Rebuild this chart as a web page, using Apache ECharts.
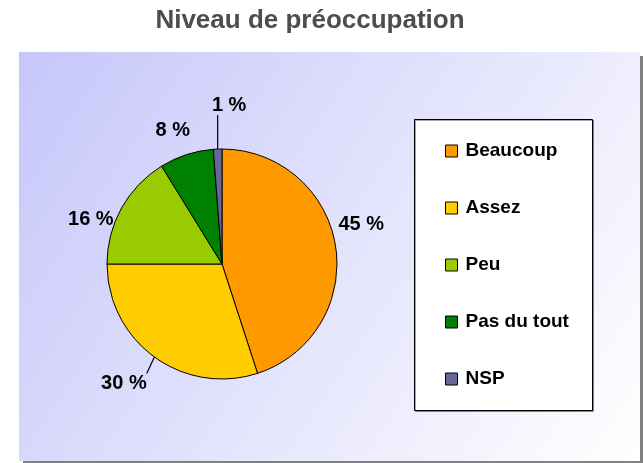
<!DOCTYPE html>
<html>
<head>
<meta charset="utf-8">
<script src="https://cdn.jsdelivr.net/npm/echarts@6/dist/echarts.min.js"></script>
<style>html,body{margin:0;padding:0;background:#fff;}#c{width:643px;height:463px;}</style>
</head>
<body>
<div id="c"></div>
<script>
const titleText = 'Niveau de préoccupation';
const categories = ['Beaucoup', 'Assez', 'Peu', 'Pas du tout', 'NSP'];
const values = [45, 30, 16.2, 7.6, 1.2];
const colors = ['#FF9900', '#FFCC00', '#99CC00', '#008000', '#666699'];
const showLine = [false, true, false, false, true];
// label nudges (layout only)
const labelNudge = [[-10, -20], [2, 20], [4, 15], [11, -17], [34, -36]];

const chart = echarts.init(document.getElementById('c'), null, {renderer: 'canvas'});
const font = '"Liberation Sans", Arial, sans-serif';

const option = {
  animation: false,
  title: {
    text: titleText,
    left: 305, top: 3, textAlign: 'center',
    textStyle: {fontFamily: font, fontWeight: 'bold', fontSize: 26, color: '#4d4d4d'}
  },
  graphic: [
    {type: 'rect', z: -10, shape: {x: 23, y: 56, width: 621, height: 409}, style: {fill: '#808080'}, silent: true},
    {type: 'rect', z: -9, shape: {x: 19, y: 52, width: 621, height: 409},
      style: {fill: {type: 'linear', x: 0, y: 0, x2: 1, y2: 1, colorStops: [{offset: 0, color: '#c6c6fa'}, {offset: 1, color: '#ffffff'}]}}, silent: true},
    {type: 'rect', z: -8, shape: {x: 414.5, y: 119.5, width: 178, height: 291}, style: {fill: '#ffffff', stroke: '#000', lineWidth: 1, shadowColor: 'rgba(0,0,0,0.35)', shadowOffsetX: 1, shadowOffsetY: 1}, silent: true}
  ],
  legend: {
    orient: 'vertical',
    left: 445, top: 141,
    padding: 0,
    itemWidth: 12, itemHeight: 12,
    itemGap: 37,
    icon: 'rect',
    itemStyle: {borderColor: '#000', borderWidth: 1},
    textStyle: {fontFamily: font, fontWeight: 'bold', fontSize: 19, color: '#000', lineHeight: 20, padding: [0, 0, 0, 3]},
    data: categories
  },
  series: [{
    type: 'pie',
    center: [222, 264],
    radius: 115,
    startAngle: 90,
    clockwise: true,
    avoidLabelOverlap: false,
    itemStyle: {borderColor: '#000', borderWidth: 1},
    label: {
      show: true, position: 'outside',
      formatter: function (p) { return Math.round(p.value) + ' %'; },
      fontFamily: font, fontWeight: 'bold', fontSize: 20, color: '#000'
    },
    labelLine: {show: true, length: 8, length2: 0, lineStyle: {color: '#000', width: 1.2}},
    labelLayout: function (p) {
      const n = labelNudge[p.dataIndex];
      const out = {dx: n[0], dy: n[1]};
      if (showLine[p.dataIndex] && p.labelLinePoints) {
        const s = p.labelLinePoints[0];
        const r = p.labelRect;
        const x0 = r.x + n[0], y0 = r.y + n[1];
        const ex = Math.min(Math.max(s[0], x0), x0 + r.width);
        const ey = Math.min(Math.max(s[1], y0), y0 + r.height);
        out.labelLinePoints = [[s[0], s[1]], [(s[0] + ex) / 2, (s[1] + ey) / 2], [ex, ey]];
      }
      return out;
    },
    data: categories.map((c, i) => ({
      name: c, value: values[i],
      itemStyle: {color: colors[i]},
      labelLine: {show: showLine[i]}
    }))
  }]
};
chart.setOption(option);
</script>
</body>
</html>
